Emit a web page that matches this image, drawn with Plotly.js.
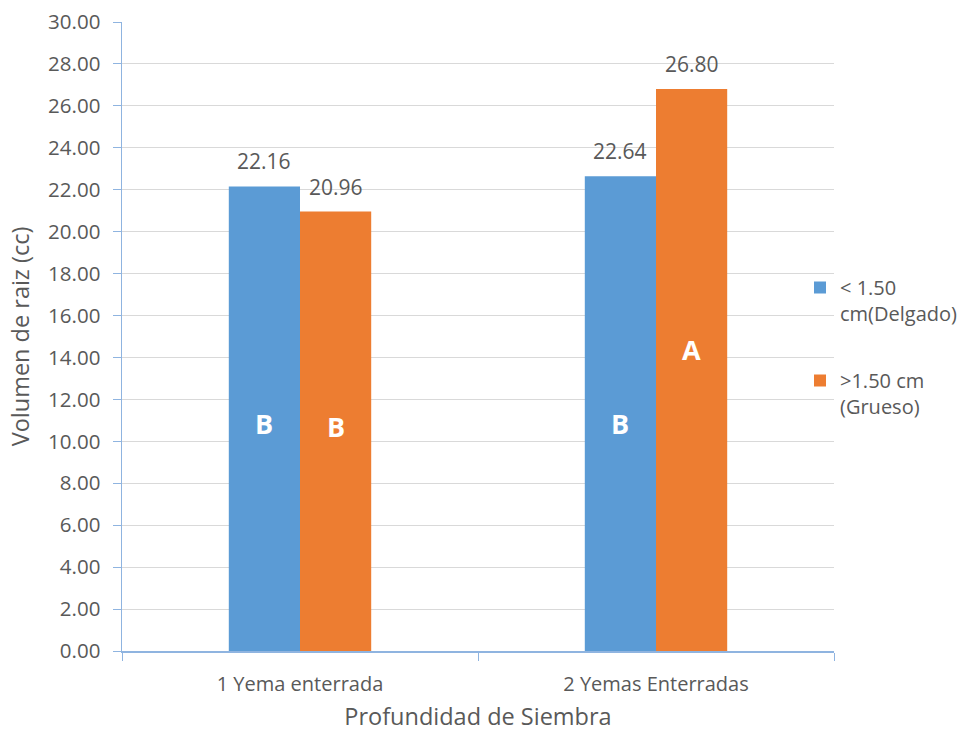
<!DOCTYPE html>
<html>
<head>
<meta charset="utf-8">
<script src="https://cdn.plot.ly/plotly-3.0.1.min.js"></script>
<style>
  html, body { margin: 0; padding: 0; background: #ffffff; }
  #chart { width: 961px; height: 732px; }
</style>
</head>
<body>
<div id="chart"></div>
<script>
// Root volume by sowing depth and cutting thickness
const categories = ['1 Yema enterrada', '2 Yemas Enterradas'];
const seriesNames = ['< 1.50<br>cm(Delgado)', '>1.50 cm<br>(Grueso)'];
const delgado = [22.16, 22.64];
const grueso = [20.96, 26.80];
// Significance letters for each bar (Delgado, Grueso)
const lettersDelgado = ['B', 'B'];
const lettersGrueso = ['B', 'A'];
const yTicks = [0, 2, 4, 6, 8, 10, 12, 14, 16, 18, 20, 22, 24, 26, 28, 30];

const BLUE = '#5B9BD5';
const ORANGE = '#ED7D31';
const AXIS = '#8FB4E0';
const TEXT = '#595959';
const FONT = 'Open Sans, Lato, sans-serif';

const barTrace = (name, values, color, group) => ({
  type: 'bar',
  name: name,
  legendgroup: group,
  x: categories,
  y: values,
  marker: { color: color },
  hoverinfo: 'skip'
});

const traces = [
  barTrace(seriesNames[0], delgado, BLUE, 'g1'),
  barTrace(seriesNames[1], grueso, ORANGE, 'g2')
];

// offsets of the two bars within each category (bar width is 0.2 category units)
const OFFSET = 0.1;
const annotations = [];

// value labels above each bar
categories.forEach((c, i) => {
  [[delgado, -OFFSET], [grueso, OFFSET]].forEach(([vals, dx]) => {
    annotations.push({
      x: i + dx, y: vals[i], xref: 'x', yref: 'y',
      text: vals[i].toFixed(2), showarrow: false,
      yanchor: 'bottom', yshift: 9,
      font: { family: FONT, size: 21, color: TEXT }
    });
  });
});

// letter placement inside the bars (height on the value axis)
const letterLevelsDelgado = [10.87, 10.87];
const letterLevelsGrueso = [10.73, 14.4];
categories.forEach((c, i) => {
  annotations.push({
    x: i - OFFSET, y: letterLevelsDelgado[i], xref: 'x', yref: 'y',
    text: '<b>' + lettersDelgado[i] + '</b>', showarrow: false,
    font: { family: FONT, size: 27, color: '#ffffff' }
  });
  annotations.push({
    x: i + OFFSET, y: letterLevelsGrueso[i], xref: 'x', yref: 'y',
    text: '<b>' + lettersGrueso[i] + '</b>', showarrow: false,
    font: { family: FONT, size: 27, color: '#ffffff' }
  });
});

const layout = {
  width: 961,
  height: 732,
  margin: { l: 122, r: 127, t: 22, b: 81, autoexpand: false },
  paper_bgcolor: '#ffffff',
  plot_bgcolor: '#ffffff',
  font: { family: FONT, color: TEXT },
  barmode: 'group',
  bargap: 0.6,
  bargroupgap: 0,
  showlegend: true,
  legend: {
    xref: 'container', yref: 'container',
    x: 800 / 961, xanchor: 'left',
    y: 1 - 268 / 732, yanchor: 'top',
    valign: 'top',
    traceorder: 'grouped',
    tracegroupgap: 38,
    font: { family: FONT, size: 20, color: TEXT },
    itemwidth: 30,
    bgcolor: 'rgba(0,0,0,0)'
  },
  xaxis: {
    type: 'category',
    range: [-0.5, 1.5],
    showline: true,
    linecolor: AXIS,
    linewidth: 1.5,
    ticks: 'outside',
    tickson: 'boundaries',
    ticklen: 8,
    tickcolor: AXIS,
    showgrid: false,
    ticklabelstandoff: 14,
    tickfont: { family: FONT, size: 20, color: TEXT },
    title: { text: 'Profundidad de Siembra', font: { family: FONT, size: 23.5, color: TEXT }, standoff: 16 },
    automargin: false
  },
  yaxis: {
    range: [0, 30],
    tickvals: yTicks,
    tickformat: '.2f',
    showline: true,
    linecolor: AXIS,
    linewidth: 1.5,
    ticks: 'outside',
    ticklen: 8,
    tickcolor: AXIS,
    showgrid: true,
    gridcolor: '#D9D9D9',
    gridwidth: 1,
    zeroline: false,
    ticklabelstandoff: 8,
    tickfont: { family: FONT, size: 20.5, color: TEXT },
    title: { text: 'Volumen de raiz (cc)', font: { family: FONT, size: 23.5, color: TEXT }, standoff: 12 },
    automargin: false
  },
  annotations: annotations
};

Plotly.newPlot('chart', traces, layout, { displayModeBar: false, staticPlot: true });
</script>
</body>
</html>
